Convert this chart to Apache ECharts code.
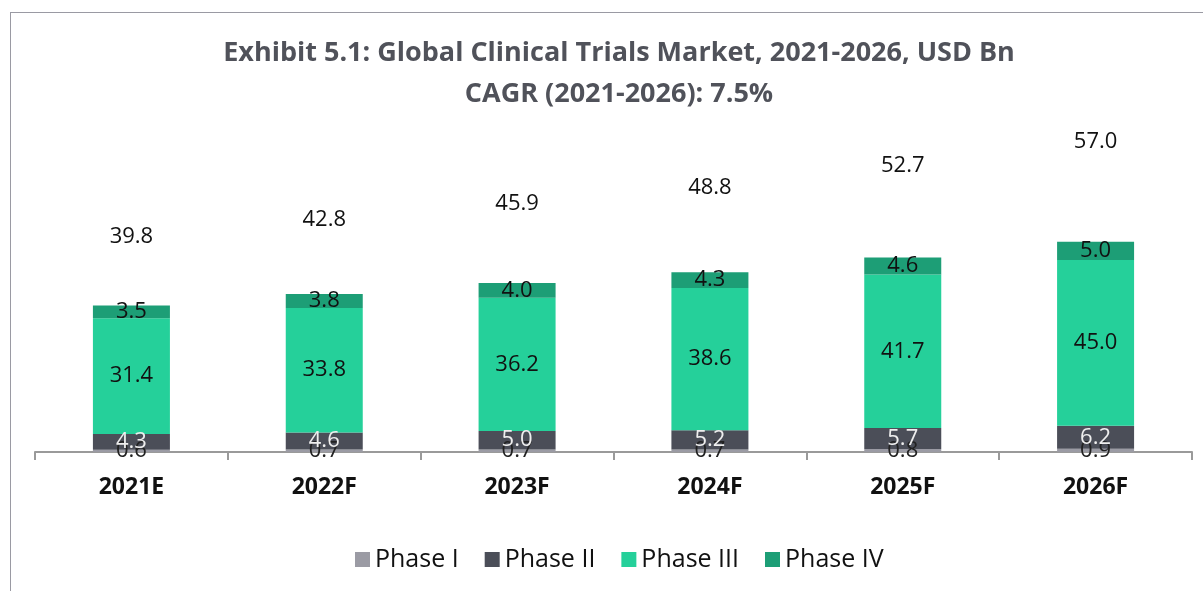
<!DOCTYPE html>
<html>
<head>
<meta charset="utf-8">
<script src="https://cdn.jsdelivr.net/npm/echarts@6/dist/echarts.min.js"></script>
<style>
html, body { margin: 0; padding: 0; background: #fff; overflow: hidden; }
.frame {
  position: absolute; left: 10px; top: 12px; width: 1300px; height: 700px;
  border: 1px solid #9a9aa3; box-sizing: border-box;
}
#chart { position: absolute; left: 0; top: 0; width: 1203px; height: 591px; }
</style>
</head>
<body>
<div class="frame"></div>
<div id="chart"></div>
<script>
// 数据
const categories = ['2021E', '2022F', '2023F', '2024F', '2025F', '2026F']
const phase1 = [0.6, 0.7, 0.7, 0.7, 0.8, 0.9]
const phase2 = [4.3, 4.6, 5.0, 5.2, 5.7, 6.2]
const phase3 = [31.4, 33.8, 36.2, 38.6, 41.7, 45.0]
const phase4 = [3.5, 3.8, 4.0, 4.3, 4.6, 5.0]
const totals = [39.8, 42.8, 45.9, 48.8, 52.7, 57.0]

const labelFont = 'Open Sans'
const fmt = p => p.value.toFixed(1)

function seg (name, data, color, labelColor) {
  return {
    name: name,
    type: 'bar',
    stack: 'all',
    barWidth: 77,
    data: data,
    itemStyle: { color: color },
    label: {
      show: true,
      position: 'inside',
      formatter: fmt,
      color: labelColor,
      fontFamily: labelFont,
      fontSize: 22
    }
  }
}

const chart = echarts.init(document.getElementById('chart'))
const option = {
  animation: false,
  title: {
    text: 'Exhibit 5.1: Global Clinical Trials Market, 2021-2026, USD Bn\nCAGR (2021-2026): 7.5%',
    left: 614,
    top: 28,
    textAlign: 'center',
    textStyle: {
      fontFamily: 'Open Sans',
      fontWeight: 'bold',
      fontSize: 27,
      lineHeight: 41,
      color: '#50525a'
    }
  },
  legend: {
    data: ['Phase I', 'Phase II', 'Phase III', 'Phase IV'],
    bottom: 14,
    left: 350,
    itemWidth: 15,
    itemHeight: 15,
    itemGap: 26,
    icon: 'rect',
    textStyle: { fontFamily: 'Open Sans', fontSize: 25, color: '#111' }
  },
  grid: { left: 35, right: 11, top: 10, bottom: 139 },
  xAxis: {
    type: 'category',
    data: categories,
    axisLine: { lineStyle: { color: '#9a9a9a', width: 2 } },
    axisTick: { show: true, length: 8, lineStyle: { color: '#9a9a9a', width: 2 } },
    axisLabel: {
      margin: 24,
      fontFamily: 'Open Sans',
      fontWeight: 'bold',
      fontSize: 23,
      color: '#111'
    }
  },
  yAxis: {
    type: 'value',
    min: 0,
    max: 120,
    show: false
  },
  series: [
    seg('Phase I', phase1, '#9b9ba4', '#222'),
    seg('Phase II', phase2, '#4b4e58', '#eeeeee'),
    seg('Phase III', phase3, '#25d09a', '#111'),
    seg('Phase IV', phase4, '#1d9e76', '#111'),
    {
      name: 'Total',
      type: 'bar',
      stack: 'all',
      barWidth: 77,
      data: totals,
      itemStyle: { color: 'rgba(0,0,0,0)' },
      label: {
        show: true,
        position: 'inside',
        offset: [0, 5],
        formatter: fmt,
        color: '#111',
        fontFamily: labelFont,
        fontSize: 22
      },
      emphasis: { disabled: true }
    }
  ]
}
chart.setOption(option)
window.addEventListener('resize', function () {
  chart.resize()
})
</script>
</body>
</html>
